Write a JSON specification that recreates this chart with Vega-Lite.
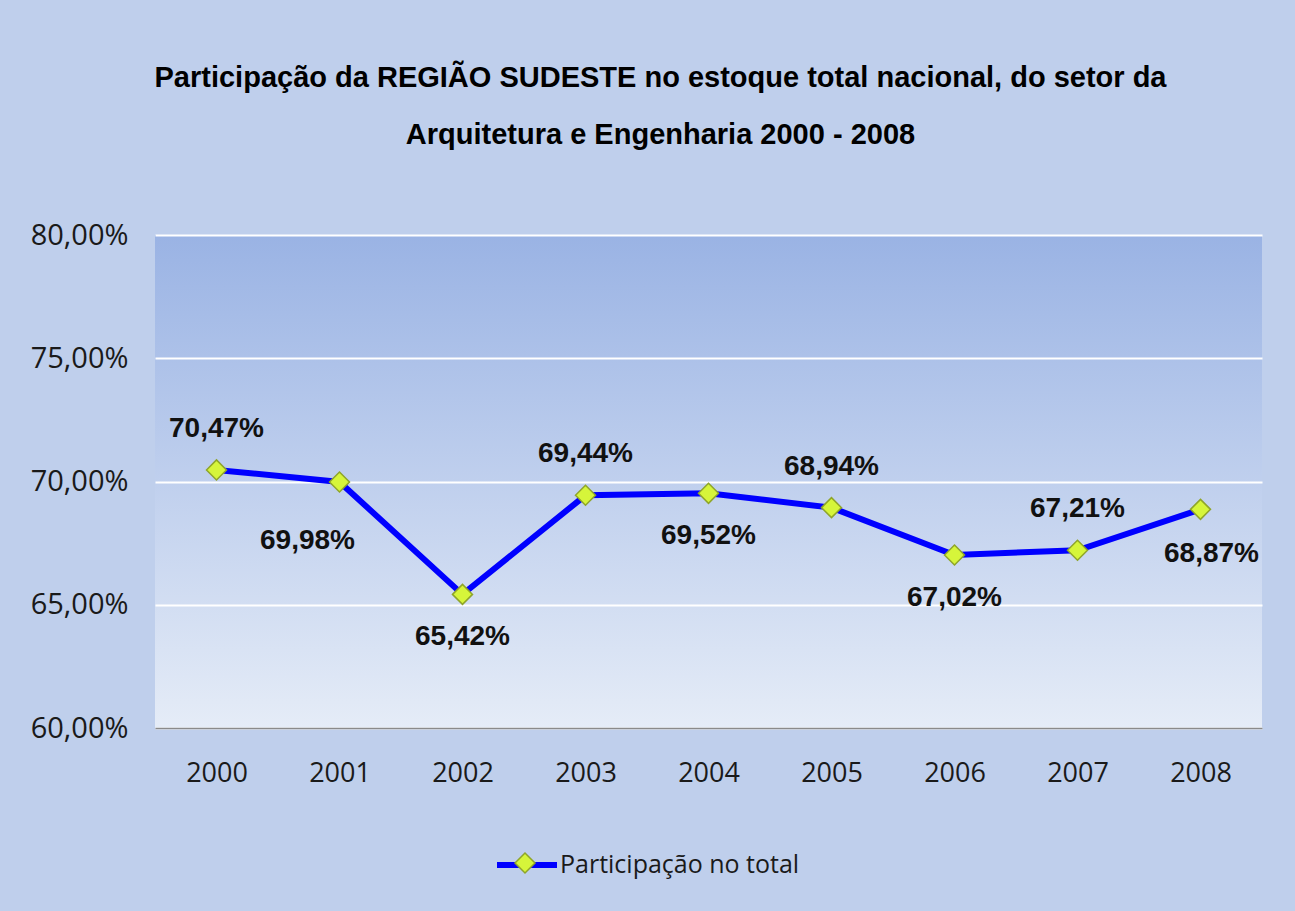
{
  "$schema": "https://vega.github.io/schema/vega-lite/v6.json",
  "width": 1107,
  "height": 493,
  "autosize": "none",
  "padding": {"left": 155, "top": 235, "right": 33, "bottom": 183},
  "background": "#bfcfec",
  "config": {
    "locale": {"number": {"decimal": ",", "thousands": ".", "grouping": [3], "currency": ["R$", ""]}},
    "view": {"stroke": null, "fill": {"gradient": "linear", "x1": 0, "y1": 0, "x2": 0, "y2": 1, "stops": [{"offset": 0, "color": "#9ab3e4"}, {"offset": 1, "color": "#e5ecf7"}]}}
  },
  "title": {
    "text": ["Participação da REGIÃO SUDESTE no estoque total nacional, do setor da", "Arquitetura e Engenharia 2000 - 2008"],
    "font": "Liberation Sans",
    "fontSize": 29,
    "fontWeight": "bold",
    "color": "#000000",
    "lineHeight": 57,
    "anchor": "middle",
    "dx": -48,
    "offset": 71
  },
  "data": {"values": [
    {"ano": "2000", "valor": 0.7047},
    {"ano": "2001", "valor": 0.6998},
    {"ano": "2002", "valor": 0.6542},
    {"ano": "2003", "valor": 0.6944},
    {"ano": "2004", "valor": 0.6952},
    {"ano": "2005", "valor": 0.6894},
    {"ano": "2006", "valor": 0.6702},
    {"ano": "2007", "valor": 0.6721},
    {"ano": "2008", "valor": 0.6887}
  ]},
  "encoding": {
    "x": {"field": "ano", "type": "ordinal", "scale": {"type": "point", "padding": 0.5},
      "axis": {"title": null, "labelAngle": 0, "labelFont": "Open Sans", "labelFontSize": 27, "labelColor": "#1a1a1a", "labelPadding": 32, "ticks": false, "domainColor": "#8a8a8a", "domainWidth": 1.5, "grid": false}},
    "y": {"field": "valor", "type": "quantitative", "scale": {"domain": [0.6, 0.8], "nice": false, "zero": false},
      "axis": {"title": null, "values": [0.6, 0.65, 0.7, 0.75, 0.8], "format": ".2%", "labelFont": "Open Sans", "labelFontSize": 29, "labelColor": "#1a1a1a", "labelPadding": 27, "ticks": false, "domain": false, "gridColor": "#ffffff", "gridWidth": 2, "gridOpacity": 1}}
  },
  "layer": [
    {"mark": {"type": "line", "strokeWidth": 6},
      "encoding": {"stroke": {"datum": "Participação no total", "scale": {"range": ["#0000ff"]},
        "legend": {"title": null, "orient": "none", "legendX": 339, "legendY": 597, "symbolType": "stroke", "symbolSize": 3600, "symbolStrokeWidth": 6, "labelFont": "Open Sans", "labelFontSize": 25, "labelColor": "#1a1a1a", "labelOffset": 0, "labelLimit": 500, "padding": 0}}}},
    {"mark": {"type": "point", "shape": "diamond", "size": 400, "filled": true, "stroke": "#8fa52a", "strokeWidth": 1.5, "opacity": 1},
      "encoding": {"fill": {"datum": "marcador", "scale": {"range": ["#d6f53a"]},
        "legend": {"title": null, "orient": "none", "legendX": 359, "legendY": 617, "symbolType": "diamond", "symbolSize": 400, "symbolStrokeColor": "#8fa52a", "symbolStrokeWidth": 1.5, "symbolOpacity": 1, "labelExpr": "''", "labelFontSize": 1, "labelOpacity": 0, "padding": 0}}}},
    {"transform": [{"filter": {"field": "ano", "oneOf": ["2000", "2003", "2005", "2007"]}}],
      "mark": {"type": "text", "font": "Liberation Sans", "fontSize": 28, "fontWeight": "bold", "color": "#111111", "dy": -41},
      "encoding": {"text": {"field": "valor", "type": "quantitative", "format": ".2%"}}},
    {"transform": [{"filter": {"field": "ano", "oneOf": ["2002", "2004", "2006"]}}],
      "mark": {"type": "text", "font": "Liberation Sans", "fontSize": 28, "fontWeight": "bold", "color": "#111111", "dy": 43},
      "encoding": {"text": {"field": "valor", "type": "quantitative", "format": ".2%"}}},
    {"transform": [{"filter": {"field": "ano", "equal": "2001"}}],
      "mark": {"type": "text", "font": "Liberation Sans", "fontSize": 28, "fontWeight": "bold", "color": "#111111", "dy": 59, "dx": -32},
      "encoding": {"text": {"field": "valor", "type": "quantitative", "format": ".2%"}}},
    {"transform": [{"filter": {"field": "ano", "equal": "2008"}}],
      "mark": {"type": "text", "font": "Liberation Sans", "fontSize": 28, "fontWeight": "bold", "color": "#111111", "dy": 45, "dx": 11},
      "encoding": {"text": {"field": "valor", "type": "quantitative", "format": ".2%"}}}
  ]
}
